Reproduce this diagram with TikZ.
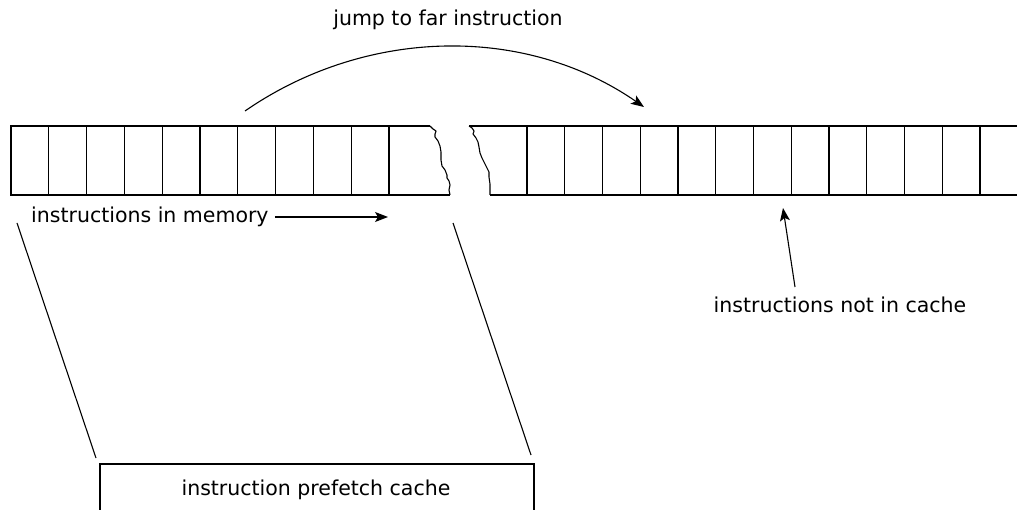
\documentclass[tikz,border=0pt]{standalone}
\usepackage{fontspec}
\setmainfont{DejaVu Sans}
\usetikzlibrary{arrows.meta}
\begin{document}
\begin{tikzpicture}[x=1pt,y=-1pt,
  ln/.style={line width=1.2pt},
  thin/.style={line width=1.1pt},
  lbl/.style={inner sep=0pt,font=\fontsize{20.5}{24}\selectfont},
  arr/.style={thin,-{Stealth[length=13pt,width=10pt,inset=3pt]}}]
\useasboundingbox (0,0) rectangle (1017,510);
% left strip
\draw[ln] (430,126) -- (11,126) -- (11,195) -- (450,195);
\foreach \i in {1,...,10} \draw[ln] (11+37.8*\i,126) -- (11+37.8*\i,195);
\draw[thin,line join=round] (430,126) -- (433,129) -- (436,131) -- (435,134) -- (435,137) -- (438,141) -- (440,146) -- (441,152) -- (441,160) -- (442,166) -- (445,170) -- (447,175) -- (447,178) -- (449,181) -- (450,185) -- (449,190) -- (450,195);
% right strip
\draw[ln] (469,126) -- (1017,126);
\draw[ln] (490,195) -- (1017,195);
\foreach \i in {0,...,12} \draw[ln] (527+37.75*\i,126) -- (527+37.75*\i,195);
\draw[thin,line join=round] (469,126) -- (472,128) -- (474,131) -- (473,134) -- (476,138) -- (478,142) -- (479,147) -- (480,153) -- (482,158) -- (485,164) -- (487,168) -- (489,172) -- (489,177) -- (490,184) -- (490,195);
% jump arc
\coordinate (js) at (245,111);
\coordinate (je) at (644,107);
\node[lbl] (jump) at (448,20) {jump to far instruction};
\draw[arr] (js) .. controls (365,28) and (524,24) .. (je);
% instructions in memory
\node[lbl,anchor=west] (mem) at (31,217) {instructions in memory};
\coordinate (memtip) at (388,217);
\draw[arr] ([xshift=6pt]mem.east) -- (memtip);
% not in cache
\node[lbl] (nic) at (840,305) {instructions not in cache};
\coordinate (nictail) at (795,287);
\coordinate (nictip) at (783,208);
\draw[arr] (nictail) -- (nictip);
% cache box
\coordinate (bl) at (100,510);
\coordinate (tl) at (100,464);
\coordinate (tr) at (534,464);
\coordinate (br) at (534,510);
\draw[ln] (bl) -- (tl) -- (tr) -- (br);
\node[lbl] (cache) at (316,490) {instruction prefetch cache};
% projection lines
\coordinate (p1) at (17,223);
\coordinate (p2) at (96,458);
\coordinate (p3) at (453,223);
\coordinate (p4) at (531,455);
\draw[thin] (p1) -- (p2);
\draw[thin] (p3) -- (p4);
\end{tikzpicture}
\end{document}
